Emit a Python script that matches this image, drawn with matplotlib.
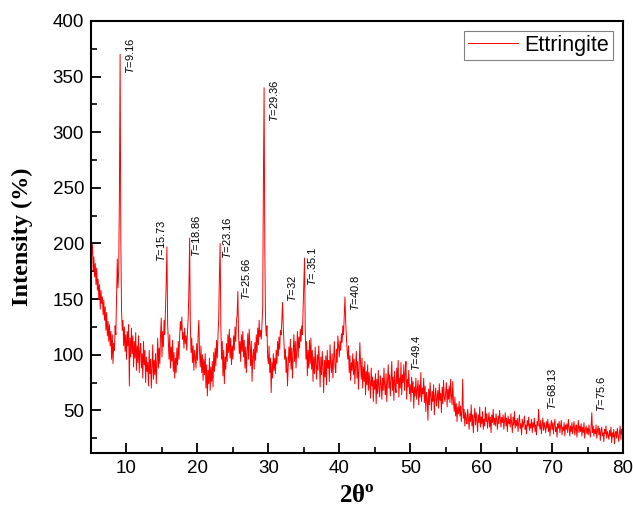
import numpy as np
import matplotlib
matplotlib.use('Agg')
import matplotlib.pyplot as plt

plt.rcParams['font.family'] = 'Liberation Sans'
plt.rcParams['mathtext.fontset'] = 'custom'
plt.rcParams['mathtext.rm'] = 'Liberation Sans'
plt.rcParams['mathtext.it'] = 'Liberation Sans:italic'
plt.rcParams['mathtext.bf'] = 'Liberation Serif:bold'

# XRD scan: start angle, step and counts (one row per degree)
start_2theta = 5.0
step_2theta = 0.1
intensity = [
    232, 190, 199, 176, 188, 170, 182, 163, 178, 158,   # 5
    168, 150, 163, 141, 158, 146, 152, 136, 149, 131,   # 6
    143, 122, 138, 117, 130, 112, 127, 108, 121, 96,    # 7
    118, 92, 110, 104, 126, 118, 150, 186, 160, 175,    # 8
    240, 370, 205, 140, 122, 131, 108, 125, 103, 118,   # 9
    96, 121, 108, 127, 72, 115, 98, 124, 101, 117,      # 10
    89, 112, 97, 120, 86, 108, 93, 117, 84, 104,        # 11
    110, 88, 101, 79, 112, 91, 104, 75, 98, 85,         # 12
    93, 72, 104, 83, 96, 70, 88, 109, 78, 95,           # 13
    82, 101, 74, 96, 115, 88, 106, 92, 118, 133,        # 14
    98, 121, 107, 131, 118, 142, 165, 197, 128, 112,    # 15
    96, 118, 88, 107, 94, 113, 85, 102, 79, 97,         # 16
    84, 106, 91, 112, 96, 118, 130, 122, 134, 114,      # 17
    120, 106, 124, 110, 117, 104, 121, 133, 158, 205,   # 18
    128, 102, 115, 93, 108, 86, 104, 97, 88, 110,       # 19
    95, 118, 131, 102, 89, 108, 84, 100, 77, 96,        # 20
    82, 101, 70, 91, 63, 86, 74, 97, 68, 89,            # 21
    76, 94, 71, 102, 85, 106, 90, 113, 97, 118,         # 22
    132, 171, 200, 128, 96, 112, 81, 104, 74, 98,       # 23
    87, 110, 94, 118, 102, 123, 97, 115, 91, 108,       # 24
    96, 117, 104, 125, 112, 130, 136, 157, 118, 101,    # 25
    112, 94, 118, 103, 121, 98, 113, 88, 107, 84,       # 26
    102, 119, 96, 123, 108, 90, 112, 76, 98, 105,       # 27
    87, 111, 95, 118, 102, 124, 109, 131, 116, 122,     # 28
    114, 127, 141, 250, 340, 196, 131, 117, 126, 98,    # 29
    92, 108, 84, 97, 66, 93, 79, 101, 86, 97,           # 30
    83, 104, 92, 112, 99, 116, 105, 122, 118, 131,      # 31
    147, 126, 110, 96, 105, 84, 98, 72, 90, 107,        # 32
    93, 114, 87, 106, 79, 101, 118, 94, 112, 88,        # 33
    104, 121, 97, 116, 106, 123, 112, 126, 118, 140,    # 34
    160, 187, 122, 96, 112, 81, 104, 88, 113, 92,       # 35
    115, 87, 104, 76, 98, 83, 107, 91, 78, 100,         # 36
    86, 108, 94, 71, 98, 82, 103, 89, 66, 95,           # 37
    80, 99, 73, 104, 88, 95, 76, 109, 92, 84,           # 38
    101, 79, 96, 112, 89, 84, 105, 93, 117, 107,        # 39
    98, 112, 104, 119, 111, 126, 118, 134, 152, 130,    # 40
    117, 104, 96, 108, 84, 99, 77, 93, 86, 101,         # 41
    82, 96, 74, 91, 103, 79, 94, 69, 88, 111,           # 42
    92, 78, 97, 70, 89, 76, 94, 64, 85, 73,             # 43
    91, 68, 84, 75, 61, 88, 72, 80, 58, 77,             # 44
    69, 83, 56, 78, 65, 86, 70, 62, 81, 74,             # 45
    60, 79, 68, 88, 71, 64, 83, 58, 76, 91,             # 46
    70, 82, 63, 77, 94, 68, 80, 59, 85, 72,             # 47
    66, 88, 74, 95, 62, 79, 70, 93, 64, 82,             # 48
    75, 91, 68, 84, 94, 60, 78, 71, 86, 65,             # 49
    73, 58, 80, 66, 76, 52, 71, 63, 79, 60,             # 50
    68, 77, 55, 73, 62, 84, 58, 70, 65, 79,             # 51
    57, 72, 49, 66, 60, 41, 69, 55, 75, 62,             # 52
    50, 67, 58, 73, 46, 63, 70, 54, 61, 68,             # 53
    52, 74, 59, 65, 48, 71, 56, 77, 62, 58,             # 54
    66, 75, 53, 69, 60, 72, 57, 78, 64, 55,             # 55
    76, 58, 49, 62, 45, 56, 40, 53, 47, 58,             # 56
    45, 54, 40, 49, 78, 43, 51, 36, 48, 42,             # 57
    38, 51, 44, 33, 47, 40, 55, 36, 46, 30,             # 58
    43, 52, 37, 48, 41, 31, 46, 39, 53, 35,             # 59
    44, 38, 49, 33, 42, 36, 53, 40, 47, 34,             # 60
    41, 48, 35, 44, 30, 46, 39, 51, 37, 43,             # 61
    36, 47, 40, 33, 45, 38, 50, 42, 35, 44,             # 62
    39, 46, 33, 41, 48, 36, 43, 31, 45, 38,             # 63
    42, 35, 47, 39, 30, 44, 37, 49, 34, 41,             # 64
    36, 43, 31, 40, 46, 34, 38, 28, 42, 35,             # 65
    39, 45, 33, 37, 29, 41, 36, 44, 32, 38,             # 66
    34, 42, 30, 39, 35, 43, 31, 37, 28, 40,             # 67
    36, 51, 38, 33, 41, 29, 37, 43, 32, 39,             # 68
    35, 30, 40, 34, 42, 31, 38, 27, 36, 41,             # 69
    33, 39, 29, 37, 42, 31, 35, 26, 38, 34,             # 70
    40, 30, 36, 41, 28, 35, 32, 39, 27, 37,             # 71
    33, 38, 30, 42, 34, 27, 36, 31, 39, 29,             # 72
    35, 40, 28, 33, 37, 26, 34, 41, 30, 36,             # 73
    31, 38, 27, 35, 30, 39, 25, 33, 36, 29,             # 74
    34, 28, 37, 31, 26, 35, 48, 30, 36, 27,             # 75
    33, 29, 37, 25, 32, 36, 28, 34, 23, 31,             # 76
    35, 27, 30, 22, 33, 29, 36, 25, 31, 28,             # 77
    24, 32, 27, 35, 21, 30, 26, 33, 20, 29,             # 78
    31, 25, 34, 28, 22, 30, 36, 24, 33, 29,             # 79
    35,                                                 # 80
]

# peak annotations, as written on the original
peak_names = ['9.16', '15.73', '18.86', '23.16', '25.66', '29.36',
              '32', '.35.1', '40.8', '49.4', '68.13', '75.6']

# where each rotated label sits (bottom centre, data coords)
label_x = [10.5, 14.87, 19.77, 24.21, 26.83, 30.74,
           33.31, 36.13, 42.17, 50.84, 69.92, 76.86]
label_y = [352, 183, 188, 186, 149, 309,
           147, 162, 139, 85, 50, 49]

two_theta = start_2theta + step_2theta * np.arange(len(intensity))

fig = plt.figure(figsize=(6.33, 5.24), dpi=100)
ax = fig.add_axes([0.1438, 0.1361, 0.8404, 0.8239])

ax.plot(two_theta, intensity, color='red', lw=0.7, label='Ettringite')

for name, lx, ly in zip(peak_names, label_x, label_y):
    ax.text(lx, ly, r'$T$=' + name, rotation=90, ha='center', va='bottom',
            fontsize=8, color='black')

ax.set_xlim(5, 80)
ax.set_ylim(12, 400)
ax.set_xticks(np.arange(10, 81, 10))
ax.set_xticks(np.arange(5, 81, 5), minor=True)
ax.set_yticks(np.arange(50, 401, 50))
ax.set_yticks(np.arange(25, 401, 25), minor=True)

ax.tick_params(which='major', direction='in', length=7, width=1.3,
               labelsize=13.5, pad=5)
ax.tick_params(which='minor', direction='in', length=4, width=1.2)
for sp in ax.spines.values():
    sp.set_linewidth(1.5)

ax.set_xlabel('2θ$^{\\mathbf{o}}$', fontfamily='Liberation Serif',
              fontweight='bold', fontsize=18, labelpad=6)
ax.set_ylabel('Intensity (%)', fontfamily='Liberation Serif',
              fontweight='bold', fontsize=17.5, labelpad=14)

leg = ax.legend(loc='upper right', fontsize=15.5, fancybox=False,
                edgecolor='gray', framealpha=1, handlelength=2.3,
                handletextpad=0.3, borderpad=0.2, borderaxespad=0.45)
leg.get_frame().set_linewidth(0.8)

fig.savefig('out.png', dpi=100)
